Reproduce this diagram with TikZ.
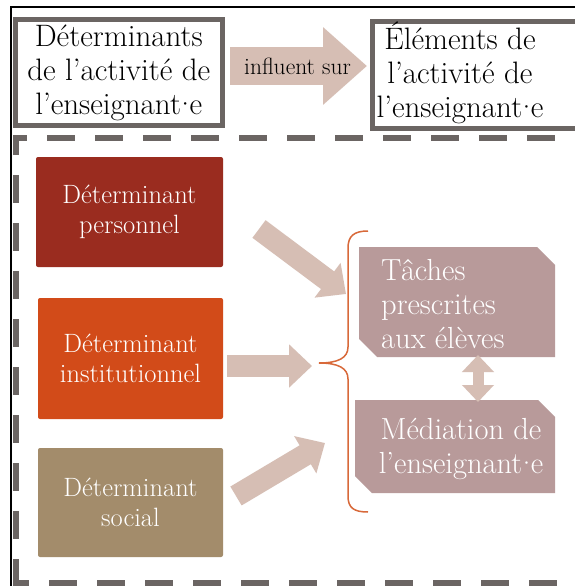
\documentclass[tikz,border=0pt]{standalone}
\usepackage{fontspec}
\usetikzlibrary{arrows.meta}
\definecolor{gframe}{HTML}{6B6563}
\definecolor{arrowc}{HTML}{D6BEB4}
\definecolor{dred}{HTML}{9A2C1F}
\definecolor{dorange}{HTML}{D24B19}
\definecolor{dtan}{HTML}{A38C6B}
\definecolor{pinkbox}{HTML}{B89A9A}
\definecolor{bracec}{HTML}{D8693A}
\newcommand{\mdot}{\makebox[0.28em]{·}}
\begin{document}
\begin{tikzpicture}[x=1pt,y=-1pt,
  topbox/.style={draw=gframe, line width=5pt, fill=white, inner sep=0pt, align=center, font=\fontsize{31}{34}\selectfont},
  toptext/.style={align=center, font=\fontsize{31}{34}\selectfont, inner sep=0pt},
  detbox/.style={rounded corners=2pt, inner sep=0pt, text=white, align=center, font=\fontsize{26.5}{30}\selectfont},
  elembox/.style={inner sep=0pt, text=white, font=\fontsize{30.5}{34}\selectfont},
  blockarrow/.style={draw=arrowc, line width=22pt, -{Triangle[length=23pt,width=42pt]}},
  dashline/.style={draw=gframe, line width=6pt, dash pattern=on 28pt off 20pt, dash phase=28pt},
  cornerline/.style={draw=gframe, line width=6pt, solid, miter limit=10}
]
\clip (0,0) rectangle (575,586);
\fill[white] (0,0) rectangle (575,586);
% outer black frame
\draw[line width=1.6pt, black] (11,600) -- (11,7) -- (600,7);
% top boxes
\node[topbox, minimum width=206.5pt, minimum height=106pt] (lb) at (118.75,72.5) {Déterminants\\de l’activité de\\l’enseignant\mdot e};
\node[topbox, minimum width=230pt, minimum height=106pt, anchor=north west] (rb) at (370,19.5) {};
\node[toptext] (rbt) at (460,73) {Éléments de\\l’activité de\\l’enseignant\mdot e};
% influent sur arrow
\coordinate (i1) at (230,66);
\coordinate (i2) at (367,66);
\draw[draw=arrowc, line width=38pt, -{Triangle[length=44pt,width=75pt]}] (i1) -- node[text=black, font=\fontsize{23.5}{26}\selectfont, inner sep=0pt, xshift=-1pt] (inf) {influent sur} (i2);
% dashed frame
\draw[cornerline] (16,155) -- (16,138) -- (27,138);
\draw[cornerline] (16,559) -- (16,583) -- (29,583);
\draw[dashline] (27,138) -- (600,138);
\draw[dashline] (16,155) -- (16,559);
\draw[dashline] (29,583) -- (600,583);
% determinant boxes
\node[detbox, fill=dred, minimum width=187pt, minimum height=110pt] (per) at (129.5,212) {Déterminant\\personnel};
\node[detbox, fill=dorange, minimum width=185pt, minimum height=121pt] (ins) at (130.5,358.5) {Déterminant\\institutionnel};
\node[detbox, fill=dtan, minimum width=185pt, minimum height=109pt] (soc) at (130.5,502.5) {Déterminant\\social};
% arrows to brace
\coordinate (a1s) at (259,229);
\coordinate (a1e) at (346,294);
\coordinate (a2s) at (227,366);
\coordinate (a2e) at (312,366);
\coordinate (a3s) at (236,496);
\coordinate (a3e) at (325,443);
\draw[blockarrow] (a1s) -- (a1e);
\draw[blockarrow] (a2s) -- (a2e);
\draw[blockarrow] (a3s) -- (a3e);
% brace
\coordinate (btip) at (319,363);
\draw[bracec, line width=1.5pt] (368,231) .. controls (354,231) and (348,236) .. (348,248) -- (348,347)
  .. controls (348,358) and (338,363) .. (btip)
  .. controls (338,363) and (348,368) .. (348,379) -- (348,496)
  .. controls (348,508) and (354,512) .. (368,512);
% element boxes (chamfered shapes)
\fill[pinkbox] (359,247) -- (537,247) -- (555,265) -- (555,357) -- (377,357) -- (359,339) -- cycle;
\fill[pinkbox] (355,400) -- (538,400) -- (555,417) -- (555,493) -- (372,493) -- (355,476) -- cycle;
\node[elembox, anchor=west, align=left] (tach) at (381,304) {Tâches\\prescrites\\aux élèves};
\node[elembox, align=center] (med) at (461,449) {Médiation de\\l’enseignant\mdot e};
% double arrow
\coordinate (d1) at (478,355);
\coordinate (d2) at (478,402);
\draw[draw=arrowc, line width=11pt, {Triangle[length=17pt,width=31pt]}-{Triangle[length=17pt,width=31pt]}] (d1) -- (d2);
\end{tikzpicture}
\end{document}
